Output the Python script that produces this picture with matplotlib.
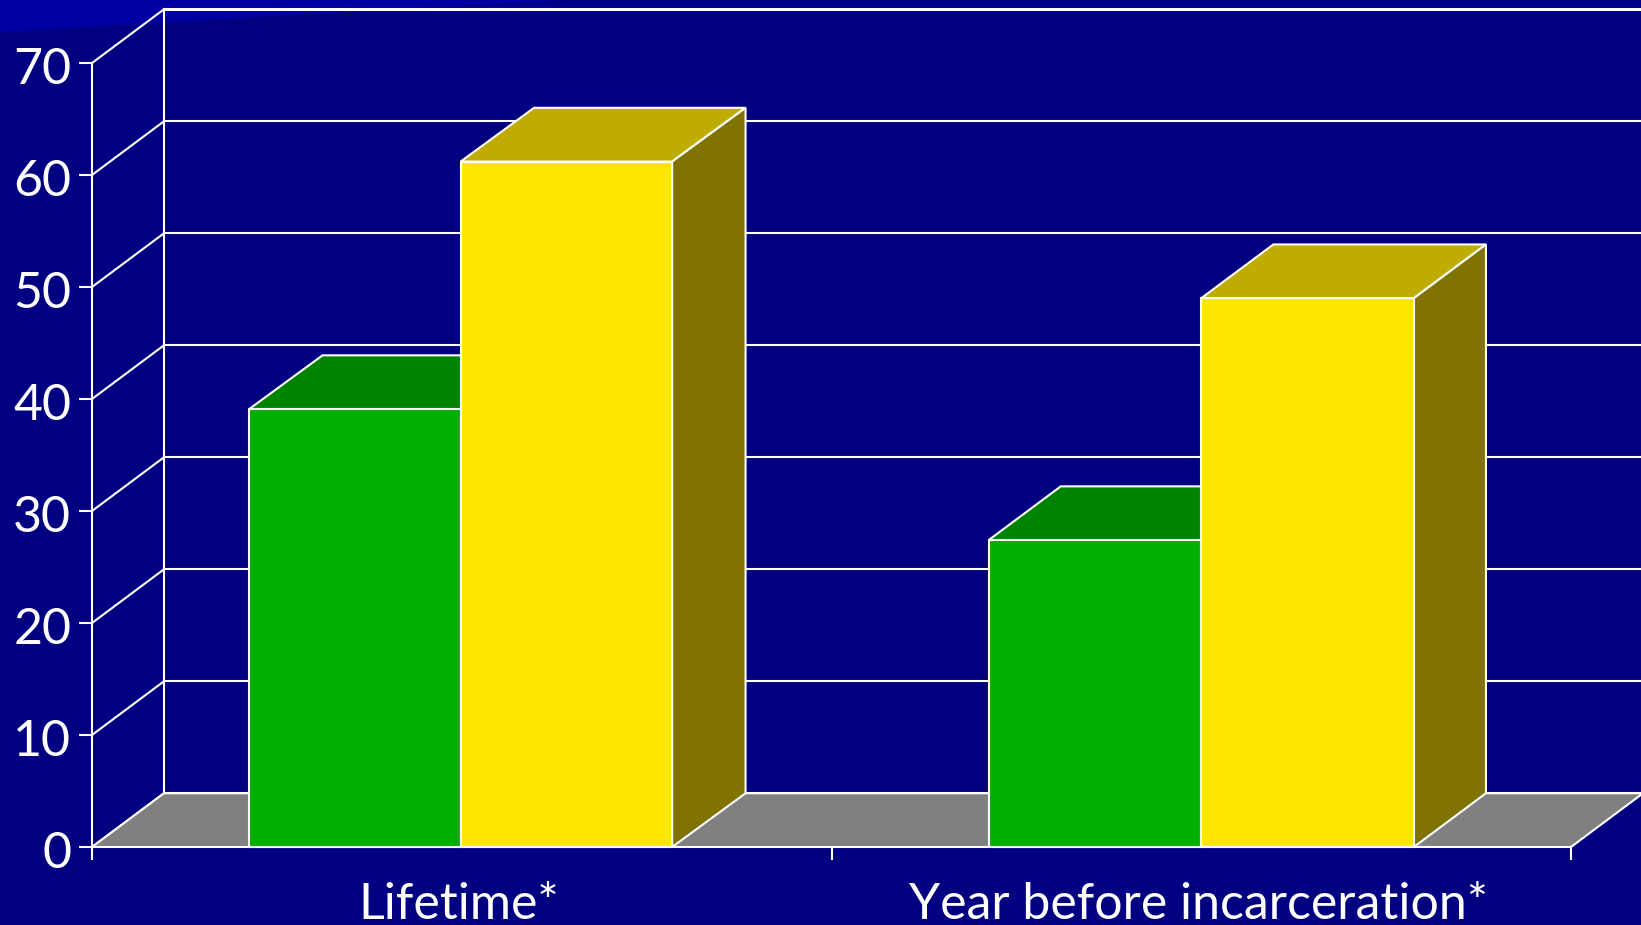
import matplotlib
matplotlib.use("Agg")
import matplotlib.pyplot as plt
from matplotlib.patches import Polygon

plt.rcParams['font.family'] = ['Lato', 'DejaVu Sans']

# values
categories = ["Lifetime*", "Year before incarceration*"]
green_values = [39.1, 27.4]
yellow_values = [61.2, 49.0]
y_ticks = [0, 10, 20, 30, 40, 50, 60, 70]

W, H = 1641, 925
NAVY = "#000080"
EDGE = "white"
LW = 1.5

# size of the 3d offset, in data units
DX = 0.0974
DY = 4.8
BAR_DX = [0.0993, 0.0975]  # bars are not quite as deep as the walls in the original
GAP = 0.2125  # space from category edge to the first bar
BAR_W = [0.286, 0.2875]


def box(ax, x0, x1, val, dx, front, top, side):
    # front face, top face and right face of one bar
    ax.add_patch(Polygon([(x0, 0), (x1, 0), (x1, val), (x0, val)], fc=front, ec=EDGE, lw=LW, zorder=5))
    ax.add_patch(Polygon([(x0, val), (x1, val), (x1 + dx, val + DY), (x0 + dx, val + DY)],
                         fc=top, ec=EDGE, lw=LW, zorder=4))
    ax.add_patch(Polygon([(x1, 0), (x1 + dx, DY), (x1 + dx, val + DY), (x1, val)],
                         fc=side, ec=EDGE, lw=LW, zorder=4))


fig = plt.figure(figsize=(W / 100, H / 100), dpi=100, facecolor=NAVY)

# lighter corner of the slide background
fig.patches.append(Polygon([(300 / W, 1), (1, 1), (1, 1 - 8 / H), (300 / W, 1 - 8 / H)],
                           transform=fig.transFigure, fc="#00008C", ec="none", zorder=-2))
fig.patches.append(Polygon([(0, 1), (0, 1 - 32 / H), (555 / W, 1)],
                           transform=fig.transFigure, fc="#0000A2", ec="none", zorder=-1))

ax = fig.add_axes([0, 0, 1, 1])
ax.patch.set_alpha(0)
ax.axis("off")
n = len(categories)
ax.set_xlim(-92 / 739.5, (W - 92) / 739.5)
ax.set_ylim(-(H - 847) / 11.2, 847 / 11.2)

# walls and gridlines
for t in y_ticks:
    ax.plot([-0.016, 0], [t, t], color=EDGE, lw=LW, zorder=2, clip_on=False)
    ax.plot([0, DX], [t, t + DY], color=EDGE, lw=LW, zorder=2)
    ax.plot([DX, n + DX], [t + DY, t + DY], color=EDGE, lw=LW if t < y_ticks[-1] else 2.2, zorder=2)
    ax.text(-0.028, t - 0.65, str(t), color="white", fontsize=36, ha="right", va="center", zorder=6)
ax.plot([0, 0], [0, y_ticks[-1]], color=EDGE, lw=LW, zorder=2)
ax.plot([DX, DX], [DY, y_ticks[-1] + DY], color=EDGE, lw=LW, zorder=2)

# floor
ax.add_patch(Polygon([(0, 0), (n, 0), (n + DX, DY), (DX, DY)], fc="#808080", ec=EDGE, lw=LW, zorder=3))

# x ticks
for i in range(n + 1):
    ax.plot([i, i], [0, -1.1], color=EDGE, lw=LW, zorder=2)

for i, cat in enumerate(categories):
    g0 = i + GAP
    g1 = g0 + BAR_W[i]
    y1 = g1 + BAR_W[i]
    box(ax, g0, g1, green_values[i], BAR_DX[i], "#00B000", "#008400", "#008400")
    box(ax, g1, y1, yellow_values[i], BAR_DX[i], "#FFE600", "#C0AC00", "#807300")
    ax.text(i + 0.5 - 0.004, -6.43, cat, color="white", fontsize=36, ha="center", va="baseline", zorder=6)

fig.savefig("out.png", dpi=100, facecolor=NAVY)
